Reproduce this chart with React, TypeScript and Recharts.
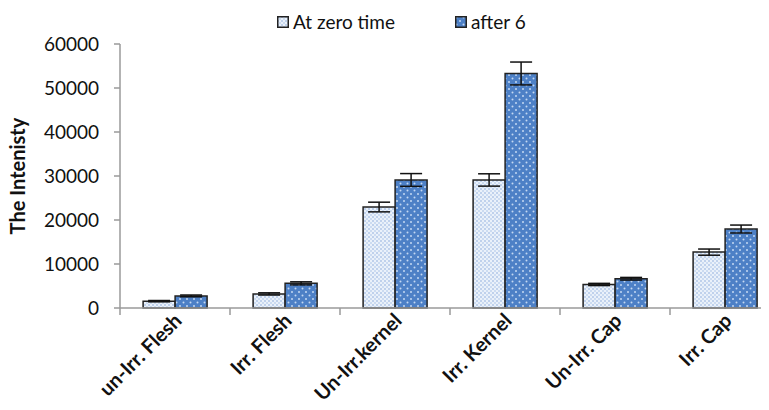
import { BarChart, Bar, XAxis, YAxis, Legend, ErrorBar, Label } from 'recharts';

const categories = ['un-Irr. Flesh', 'Irr. Flesh', 'Un-Irr.kernel', 'Irr. Kernel', 'Un-Irr. Cap', 'Irr. Cap'];
const zeroTime = [1550, 3200, 22950, 29100, 5350, 12700];
const zeroTimeErr = [150, 250, 1100, 1400, 250, 700];
const after6 = [2750, 5600, 29100, 53300, 6650, 17950];
const after6Err = [200, 350, 1450, 2600, 300, 900];
const yTicks = [0, 10000, 20000, 30000, 40000, 50000, 60000];

const data = categories.map((name, i) => ({
  name,
  zero: zeroTime[i],
  zeroErr: zeroTimeErr[i],
  after: after6[i],
  afterErr: after6Err[i],
}));

const CHART_W = 800;
const CHART_H = 410;
const LEGEND_H = 24;
const MARGIN = { top: 44 - LEGEND_H, right: 20, bottom: 0, left: 0 };
const Y_WIDTH = 120;
const BAND = (CHART_W - MARGIN.left - MARGIN.right - Y_WIDTH) / categories.length;
const FONT = 'Lato, "Open Sans", sans-serif';

function CategoryTick(props: any) {
  const { x, y, payload } = props;
  return (
    <g>
      <line x1={x - BAND / 2} x2={x - BAND / 2} y1={y} y2={y + 7} stroke="#9a9a9a" strokeWidth={1.5} />
      <text
        x={x + 8}
        y={y + 14}
        transform={`rotate(-45 ${x + 8} ${y + 14})`}
        textAnchor="end"
        fontFamily={FONT}
        fontWeight={700}
        fontSize={20}
        fill="#111"
      >
        {payload.value}
      </text>
    </g>
  );
}

function LegendContent(props: any) {
  const { payload } = props;
  return (
    <div style={{ display: 'flex', height: LEGEND_H, paddingLeft: 277, fontFamily: FONT, fontSize: 19, lineHeight: '24px', color: '#111' }}>
      {(payload || []).map((entry: any, i: number) => (
        <div key={`item-${i}`} style={{ display: 'flex', alignItems: 'center', width: i === 0 ? 178 : 120 }}>
          <svg width={12} height={12} style={{ marginRight: 4 }}>
            <rect x={0.75} y={0.75} width={10.5} height={10.5} fill={i === 0 ? 'url(#dotsLight)' : 'url(#dotsDark)'} stroke="#222" strokeWidth={1.5} />
          </svg>
          <span>{entry.value}</span>
        </div>
      ))}
    </div>
  );
}

export default function App() {
  return (
    <div style={{ margin: -8, width: 769, height: 410, overflow: 'hidden', background: '#fff' }}>
      <BarChart width={CHART_W} height={CHART_H} data={data} margin={MARGIN} barGap={0} barCategoryGap="21%">
        <defs>
          <pattern id="dotsLight" width={4} height={4} patternUnits="userSpaceOnUse">
            <rect width={4} height={4} fill="#eaf1fa" />
            <circle cx={1} cy={1} r={0.8} fill="#88aadb" />
            <circle cx={3} cy={3} r={0.8} fill="#a3bfe6" />
          </pattern>
          <pattern id="dotsDark" width={7} height={7} patternUnits="userSpaceOnUse">
            <rect width={7} height={7} fill="#4d80c6" />
            <circle cx={1.5} cy={1.5} r={1} fill="#c4d8f2" />
            <circle cx={5} cy={5} r={1} fill="#c4d8f2" />
          </pattern>
        </defs>
        <XAxis
          dataKey="name"
          interval={0}
          height={102}
          tickLine={false}
          tickSize={0}
          tickMargin={0}
          axisLine={{ stroke: '#9a9a9a', strokeWidth: 1.5 }}
          tick={<CategoryTick />}
        />
        <YAxis
          width={Y_WIDTH}
          domain={[0, 60000]}
          ticks={yTicks}
          interval={0}
          tickSize={6}
          tickMargin={15}
          axisLine={{ stroke: '#9a9a9a', strokeWidth: 1.5 }}
          tickLine={{ stroke: '#9a9a9a', strokeWidth: 1.5 }}
          tick={{ fill: '#111', fontSize: 19, fontFamily: FONT }}
        >
          <Label
            content={() => (
              <text
                x={25}
                y={176}
                transform="rotate(-90 25 176)"
                textAnchor="middle"
                fontFamily={FONT}
                fontWeight={700}
                fontSize={20}
                fill="#111"
              >
                The Intenisty
              </text>
            )}
          />
        </YAxis>
        <Legend verticalAlign="top" align="left" height={LEGEND_H} wrapperStyle={{ top: 10, left: 0, width: CHART_W }} content={<LegendContent />} />
        <Bar dataKey="zero" name="At zero time" fill="url(#dotsLight)" stroke="#222" strokeWidth={1.5} isAnimationActive={false}>
          <ErrorBar dataKey="zeroErr" width={11} stroke="#111" strokeWidth={1.5} direction="y" />
        </Bar>
        <Bar dataKey="after" name="after 6" fill="url(#dotsDark)" stroke="#222" strokeWidth={1.5} isAnimationActive={false}>
          <ErrorBar dataKey="afterErr" width={11} stroke="#111" strokeWidth={1.5} direction="y" />
        </Bar>
      </BarChart>
    </div>
  );
}
